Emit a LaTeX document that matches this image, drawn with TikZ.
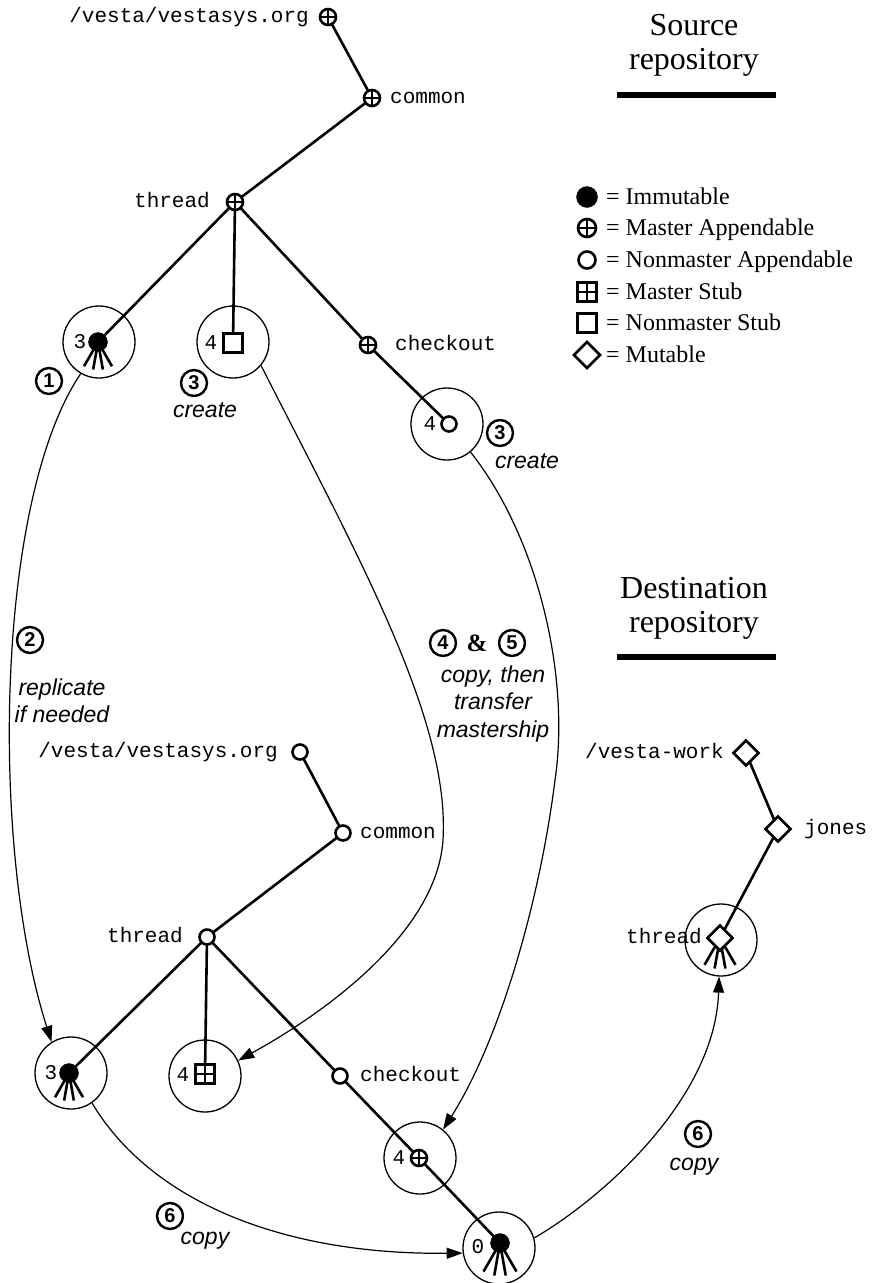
\documentclass[tikz,border=0pt]{standalone}
\usepackage{fontspec}
\setmainfont{Liberation Serif}
\setsansfont{Liberation Sans}
\setmonofont{Liberation Mono}
\usetikzlibrary{arrows.meta,shapes.geometric}
\pgfdeclarelayer{back}
\pgfsetlayers{back,main}

\tikzset{
  symbol/.style={draw, line width=2.6pt, inner sep=0pt, outer sep=0pt, fill=white},
  immutable/.style={circle, fill=black, draw=black, line width=0.4pt, minimum size=19pt, inner sep=0pt, outer sep=0pt},
  crossed/.style={path picture={\draw[line width=2.2pt]
      (path picture bounding box.north) -- (path picture bounding box.south)
      (path picture bounding box.west) -- (path picture bounding box.east);}},
  masterapp/.style={symbol, circle, minimum size=16pt, crossed},
  nonmasterapp/.style={symbol, circle, minimum size=15pt},
  masterstub/.style={symbol, rectangle, minimum size=19pt, crossed},
  nonmasterstub/.style={symbol, rectangle, minimum size=19pt},
  mutable/.style={symbol, diamond, minimum size=25pt},
  keysym/.style={minimum size=#1},
  ring/.style={circle, draw, line width=1.3pt, minimum size=72pt, inner sep=0pt},
  branch/.style={line width=2.6pt},
  flow/.style={line width=1.2pt, -{Triangle[length=16pt,width=11pt]}},
  rule/.style={line width=6pt},
  mono/.style={font=\ttfamily\fontsize{21}{24}\selectfont, inner sep=0pt},
  count/.style={font=\ttfamily\fontsize{21}{24}\selectfont, inner sep=0pt},
  head/.style={font=\fontsize{32}{36}\selectfont, inner sep=0pt, anchor=base},
  legtext/.style={font=\fontsize{24}{28}\selectfont, inner sep=0pt, anchor=base west},
  stepno/.style={circle, draw, line width=2.4pt, minimum size=26pt, inner sep=0pt,
      font=\sffamily\bfseries\fontsize{20}{20}\selectfont},
  action/.style={font=\sffamily\itshape\fontsize{23}{27.5}\selectfont, align=center, inner sep=0pt},
}
\newcommand\burst[2]{%
  \begin{pgfonlayer}{back}
    \foreach \a in {120,100,80,60} \draw[branch] (#1.center) -- ++(\a:#2);
  \end{pgfonlayer}}

\begin{document}
\begin{tikzpicture}[x=1pt,y=-1pt]
\useasboundingbox (0,0) rectangle (874,1283);

% ---------- headings ----------
\node[head] (srchA) at (694,35) {Source};
\node[head] (srchB) at (694,69) {repository};
\draw[rule] (617,95) -- (776,95);
\node[head] (dsthA) at (694,598) {Destination};
\node[head] (dsthB) at (694,632) {repository};
\draw[rule] (617,657) -- (776,657);

% ---------- legend ----------
\node[immutable, keysym=21pt]     (lg1) at (587,197) {};
\node[masterapp, keysym=18pt]     (lg2) at (587,228) {};
\node[nonmasterapp, keysym=17pt]  (lg3) at (587,260) {};
\node[masterstub, keysym=19pt]    (lg4) at (587,292) {};
\node[nonmasterstub, keysym=19pt] (lg5) at (587,323) {};
\node[mutable, keysym=26pt]       (lg6) at (587,355) {};
\node[legtext] (lt1) at (606,204) {= Immutable};
\node[legtext] (lt2) at (606,235) {= Master Appendable};
\node[legtext] (lt3) at (606,267) {= Nonmaster Appendable};
\node[legtext] (lt4) at (606,299) {= Master Stub};
\node[legtext] (lt5) at (606,330) {= Nonmaster Stub};
\node[legtext] (lt6) at (606,362) {= Mutable};

% ---------- source repository ----------
\node[ring] (s3r) at (99,342) {};
\node[ring] (s4r) at (233,342) {};
\node[ring] (s5r) at (447,424) {};

\node[masterapp] (sroot) at (328,17) {};
\node[masterapp] (scom)  at (372,98) {};
\node[masterapp] (sthr)  at (235,202) {};
\node[masterapp] (schk)  at (368,345) {};
\node[immutable] (s3d) at (98,342) {};
\node[nonmasterstub] (s4s) at (233,343) {};
\node[nonmasterapp] (s5c) at (449,424) {};

\node[mono, anchor=base east] (srootl) at (309,22) {/vesta/vestasys.org};
\node[mono, anchor=base west] (scoml)  at (390,103) {common};
\node[mono, anchor=base east] (sthrl)  at (210,207) {thread};
\node[mono, anchor=base west] (schkl)  at (395,350) {checkout};
\node[count] (s3n) at (80,342) {3};
\node[count] (s4n) at (211,343) {4};
\node[count] (s5n) at (430,424) {4};

\draw[branch] (sroot) -- (scom);
\draw[branch] (scom) -- (sthr);
\draw[branch] (sthr) -- (s3d);
\draw[branch] (sthr) -- (s4s);
\draw[branch] (sthr) -- (schk);
\draw[branch] (schk) -- (s5c);
\burst{s3d}{28}

% ---------- destination repository ----------
\node[ring] (d3r) at (71,1073) {};
\node[ring] (d4r) at (205,1076) {};
\node[ring] (d5r) at (420,1158) {};
\node[ring] (d0r) at (499,1248) {};
\node[ring] (wthrr) at (721,940) {};

\node[nonmasterapp] (droot) at (300,752) {};
\node[nonmasterapp] (dcom)  at (343,833) {};
\node[nonmasterapp] (dthr)  at (207,937) {};
\node[nonmasterapp] (dchk)  at (340,1076) {};
\node[immutable]  (d3d) at (69,1073) {};
\node[masterstub] (d4s) at (205,1074) {};
\node[masterapp]  (d5c) at (419,1158) {};
\node[immutable]  (d0d) at (500,1243) {};

\node[mono, anchor=base east] (drootl) at (278,757) {/vesta/vestasys.org};
\node[mono, anchor=base west] (dcoml)  at (360,838) {common};
\node[mono, anchor=base east] (dthrl)  at (183,942) {thread};
\node[mono, anchor=base west] (dchkl)  at (360,1081) {checkout};
\node[count] (d3n) at (51,1073) {3};
\node[count] (d4n) at (183,1075) {4};
\node[count] (d5n) at (399,1158) {4};
\node[count] (d0n) at (478,1247) {0};

\draw[branch] (droot) -- (dcom);
\draw[branch] (dcom) -- (dthr);
\draw[branch] (dthr) -- (d3d);
\draw[branch] (dthr) -- (d4s);
\draw[branch] (dthr) -- (dchk);
\draw[branch] (dchk) -- (d5c);
\draw[branch] (d5c) -- (d0d);
\burst{d3d}{28}
\burst{d0d}{33}

% mutable work tree
\node[mutable] (wroot)  at (746,753) {};
\node[mutable] (wjones) at (778,829) {};
\node[mutable] (wthr)   at (720,938) {};
\node[mono, anchor=base east] (wrootl)  at (724,758) {/vesta-work};
\node[mono, anchor=base west] (wjonesl) at (804,834) {jones};
\node[mono, anchor=base east] (wthrl)   at (702,943) {thread};
\draw[branch] (wroot) -- (wjones);
\draw[branch] (wjones) -- (wthr);
\burst{wthr}{31}

% ---------- transfer steps ----------
\draw[flow] (s3r.240) .. controls (-5,500) and (-10,850) .. (d3r.122);
\draw[flow] (s4r.320) .. controls (360,560) and (450,720) .. (443,840)
                      .. controls (437,930) and (330,1010) .. (d4r.25);
\draw[flow] (s5r.310) .. controls (540,540) and (570,680) .. (555,780)
                      .. controls (540,900) and (500,1040) .. (d5r.51);
\draw[flow] (d3r.305) .. controls (150,1200) and (280,1255) .. (d0r.188);
\draw[flow] (d0r.16) .. controls (600,1200) and (715,1100) .. (wthrr.267);

\node[stepno] (st1)  at (49,381) {1};
\node[stepno] (st3a) at (194,383) {3};
\node[action] (ac3a) at (205,410) {create};
\node[stepno] (st3b) at (500,433) {3};
\node[action] (ac3b) at (527,461) {create};
\node[stepno] (st2)  at (30,640) {2};
\node[action] (ac2)  at (62,701) {replicate\\if needed};
\node[stepno] (st4)  at (443,643) {4};
\node[font=\bfseries\fontsize{25}{25}\selectfont, inner sep=0pt] (amp) at (477,643) {\&};
\node[stepno] (st5)  at (512,643) {5};
\node[action] (ac45) at (493,704) {copy, then\\transfer\\mastership};
\node[stepno] (st6a) at (170,1216) {6};
\node[action] (ac6a) at (205,1241) {copy};
\node[stepno] (st6b) at (698,1134) {6};
\node[action] (ac6b) at (694,1167) {copy};
\end{tikzpicture}
\end{document}
